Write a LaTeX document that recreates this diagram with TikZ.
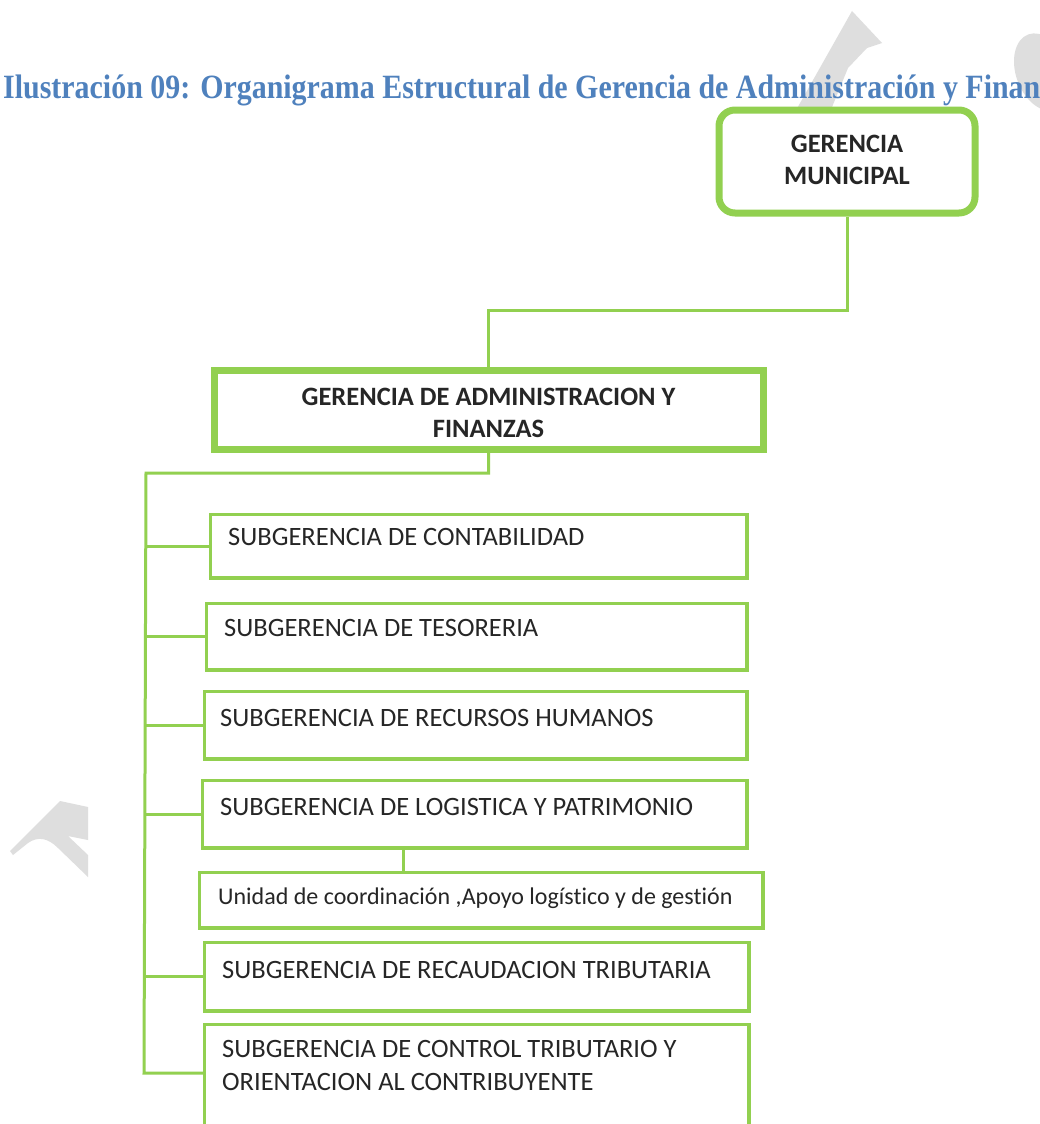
\documentclass[tikz,border=0pt]{standalone}
\usepackage{fontspec}
\setmainfont{Carlito}[Ligatures=NoCommon]
\newfontfamily\titlefont{Liberation Serif}
\usepackage{graphicx}
\definecolor{gr}{RGB}{146,208,80}
\definecolor{tb}{RGB}{79,129,189}
\definecolor{wm}{RGB}{222,222,222}
\definecolor{tx}{RGB}{38,38,38}
\begin{document}
\begin{tikzpicture}[x=1pt,y=-1pt,
  conn/.style={draw=gr, line width=3pt},
  sbox/.style={draw=gr, line width=3.5pt, fill=white, inner sep=0pt, anchor=north west},
  bigbox/.style={draw=gr, line width=7pt, fill=white, inner sep=0pt, anchor=north west},
  btxt/.style={align=center, inner sep=0pt, text=tx, font=\bfseries\fontsize{26.5}{32}\selectfont},
  stxt/.style={anchor=base west, inner sep=0pt, text=tx, font=\fontsize{26.5}{31}\selectfont},
  utxt/.style={anchor=base west, inner sep=0pt, text=tx, font=\fontsize{24}{29}\selectfont},
]
\clip (0,0) rectangle (1040,1124);
\fill[white] (0,0) rectangle (1040,1124);
% watermarks
\begin{scope}
\clip (0,0) rectangle (1040,112);
\fill[wm] (852,11) -- (882,43) -- (867,48) -- (848,68) -- (830,112) -- (795,112) -- cycle;
\fill[wm] (1042,72) ellipse [x radius=26, y radius=40, rotate=20];
\end{scope}
\fill[wm] (60,801) -- (88,807) -- (88,840) -- (68,836) -- (88,855) -- (88,877) -- (58,848)
  .. controls (48,838) and (38,836) .. (28,843) -- (13,855) -- (10,851) -- cycle;
% coordinates
\coordinate (mid1) at (0,310);
\coordinate (tt) at (146,473);
\coordinate (tb) at (144,1073);
\coordinate (ux) at (403,0);
% boxes
\node[bigbox, rounded corners=16pt, minimum width=256pt, minimum height=103pt] (gm) at (715.5,106.5) {};
\node[bigbox, minimum width=549pt, minimum height=79pt] (gaf) at (210.5,366.5) {};
\node[sbox, minimum width=536.5pt, minimum height=63.5pt] (sc) at (208.75,512.75) {};
\node[sbox, minimum width=540.5pt, minimum height=66.5pt] (st) at (204.75,601.75) {};
\node[sbox, minimum width=542.5pt, minimum height=67.5pt] (srh) at (202.75,689.75) {};
\node[sbox, minimum width=544.5pt, minimum height=67.5pt] (slp) at (200.75,778.75) {};
\node[sbox, minimum width=563.5pt, minimum height=55.5pt] (uni) at (197.75,870.75) {};
\node[sbox, minimum width=544.5pt, minimum height=68.5pt] (srt) at (202.75,940.75) {};
\node[sbox, minimum width=544.5pt, minimum height=140pt] (sct) at (202.75,1022.75) {};
% title
\node[anchor=base west, inner sep=0pt, text=tb] (title) at (3,99)
  {\resizebox{1037pt}{\height}{\titlefont\bfseries\fontsize{34}{38}\selectfont Ilustración 09: Organigrama Estructural de Gerencia de Administración y Finan}};
% connectors
\draw[conn] (gm.south) -- (gm.south |- mid1) -| (gaf.north);
\draw[conn] (gaf.south) |- (tt) -- (tb) -- (tb -| sct.west);
\draw[conn] (sc.west) -- (sc.west -| tt);
\draw[conn] (st.west) -- (st.west -| tt);
\draw[conn] (srh.west) -- (srh.west -| tt);
\draw[conn] (slp.west) -- (slp.west -| tt);
\draw[conn] (srt.west) -- (srt.west -| tt);
\draw[conn] (slp.south -| ux) -- (uni.north -| ux);
% texts
\node[btxt] (tgm) at ([yshift=2pt]gm.center) {GERENCIA\\MUNICIPAL};
\node[btxt] (tgaf) at ([yshift=-3pt]gaf.center) {GERENCIA DE ADMINISTRACION Y\\FINANZAS};
\node[stxt] (tsc) at (228,545) {SUBGERENCIA DE CONTABILIDAD};
\node[stxt] (tst) at (224,636) {SUBGERENCIA DE TESORERIA};
\node[stxt] (tsrh) at (220,726) {SUBGERENCIA DE RECURSOS HUMANOS};
\node[stxt] (tslp) at (220,815) {SUBGERENCIA DE LOGISTICA Y PATRIMONIO};
\node[utxt] (tuni) at (218,904) {Unidad de coordinación ,Apoyo logístico y de gestión};
\node[stxt] (tsrt) at (222,978) {SUBGERENCIA DE RECAUDACION TRIBUTARIA};
\node[stxt] (tsct1) at (222,1057) {SUBGERENCIA DE CONTROL TRIBUTARIO Y};
\node[stxt] (tsct2) at (222,1090) {ORIENTACION AL CONTRIBUYENTE};
\end{tikzpicture}
\end{document}
